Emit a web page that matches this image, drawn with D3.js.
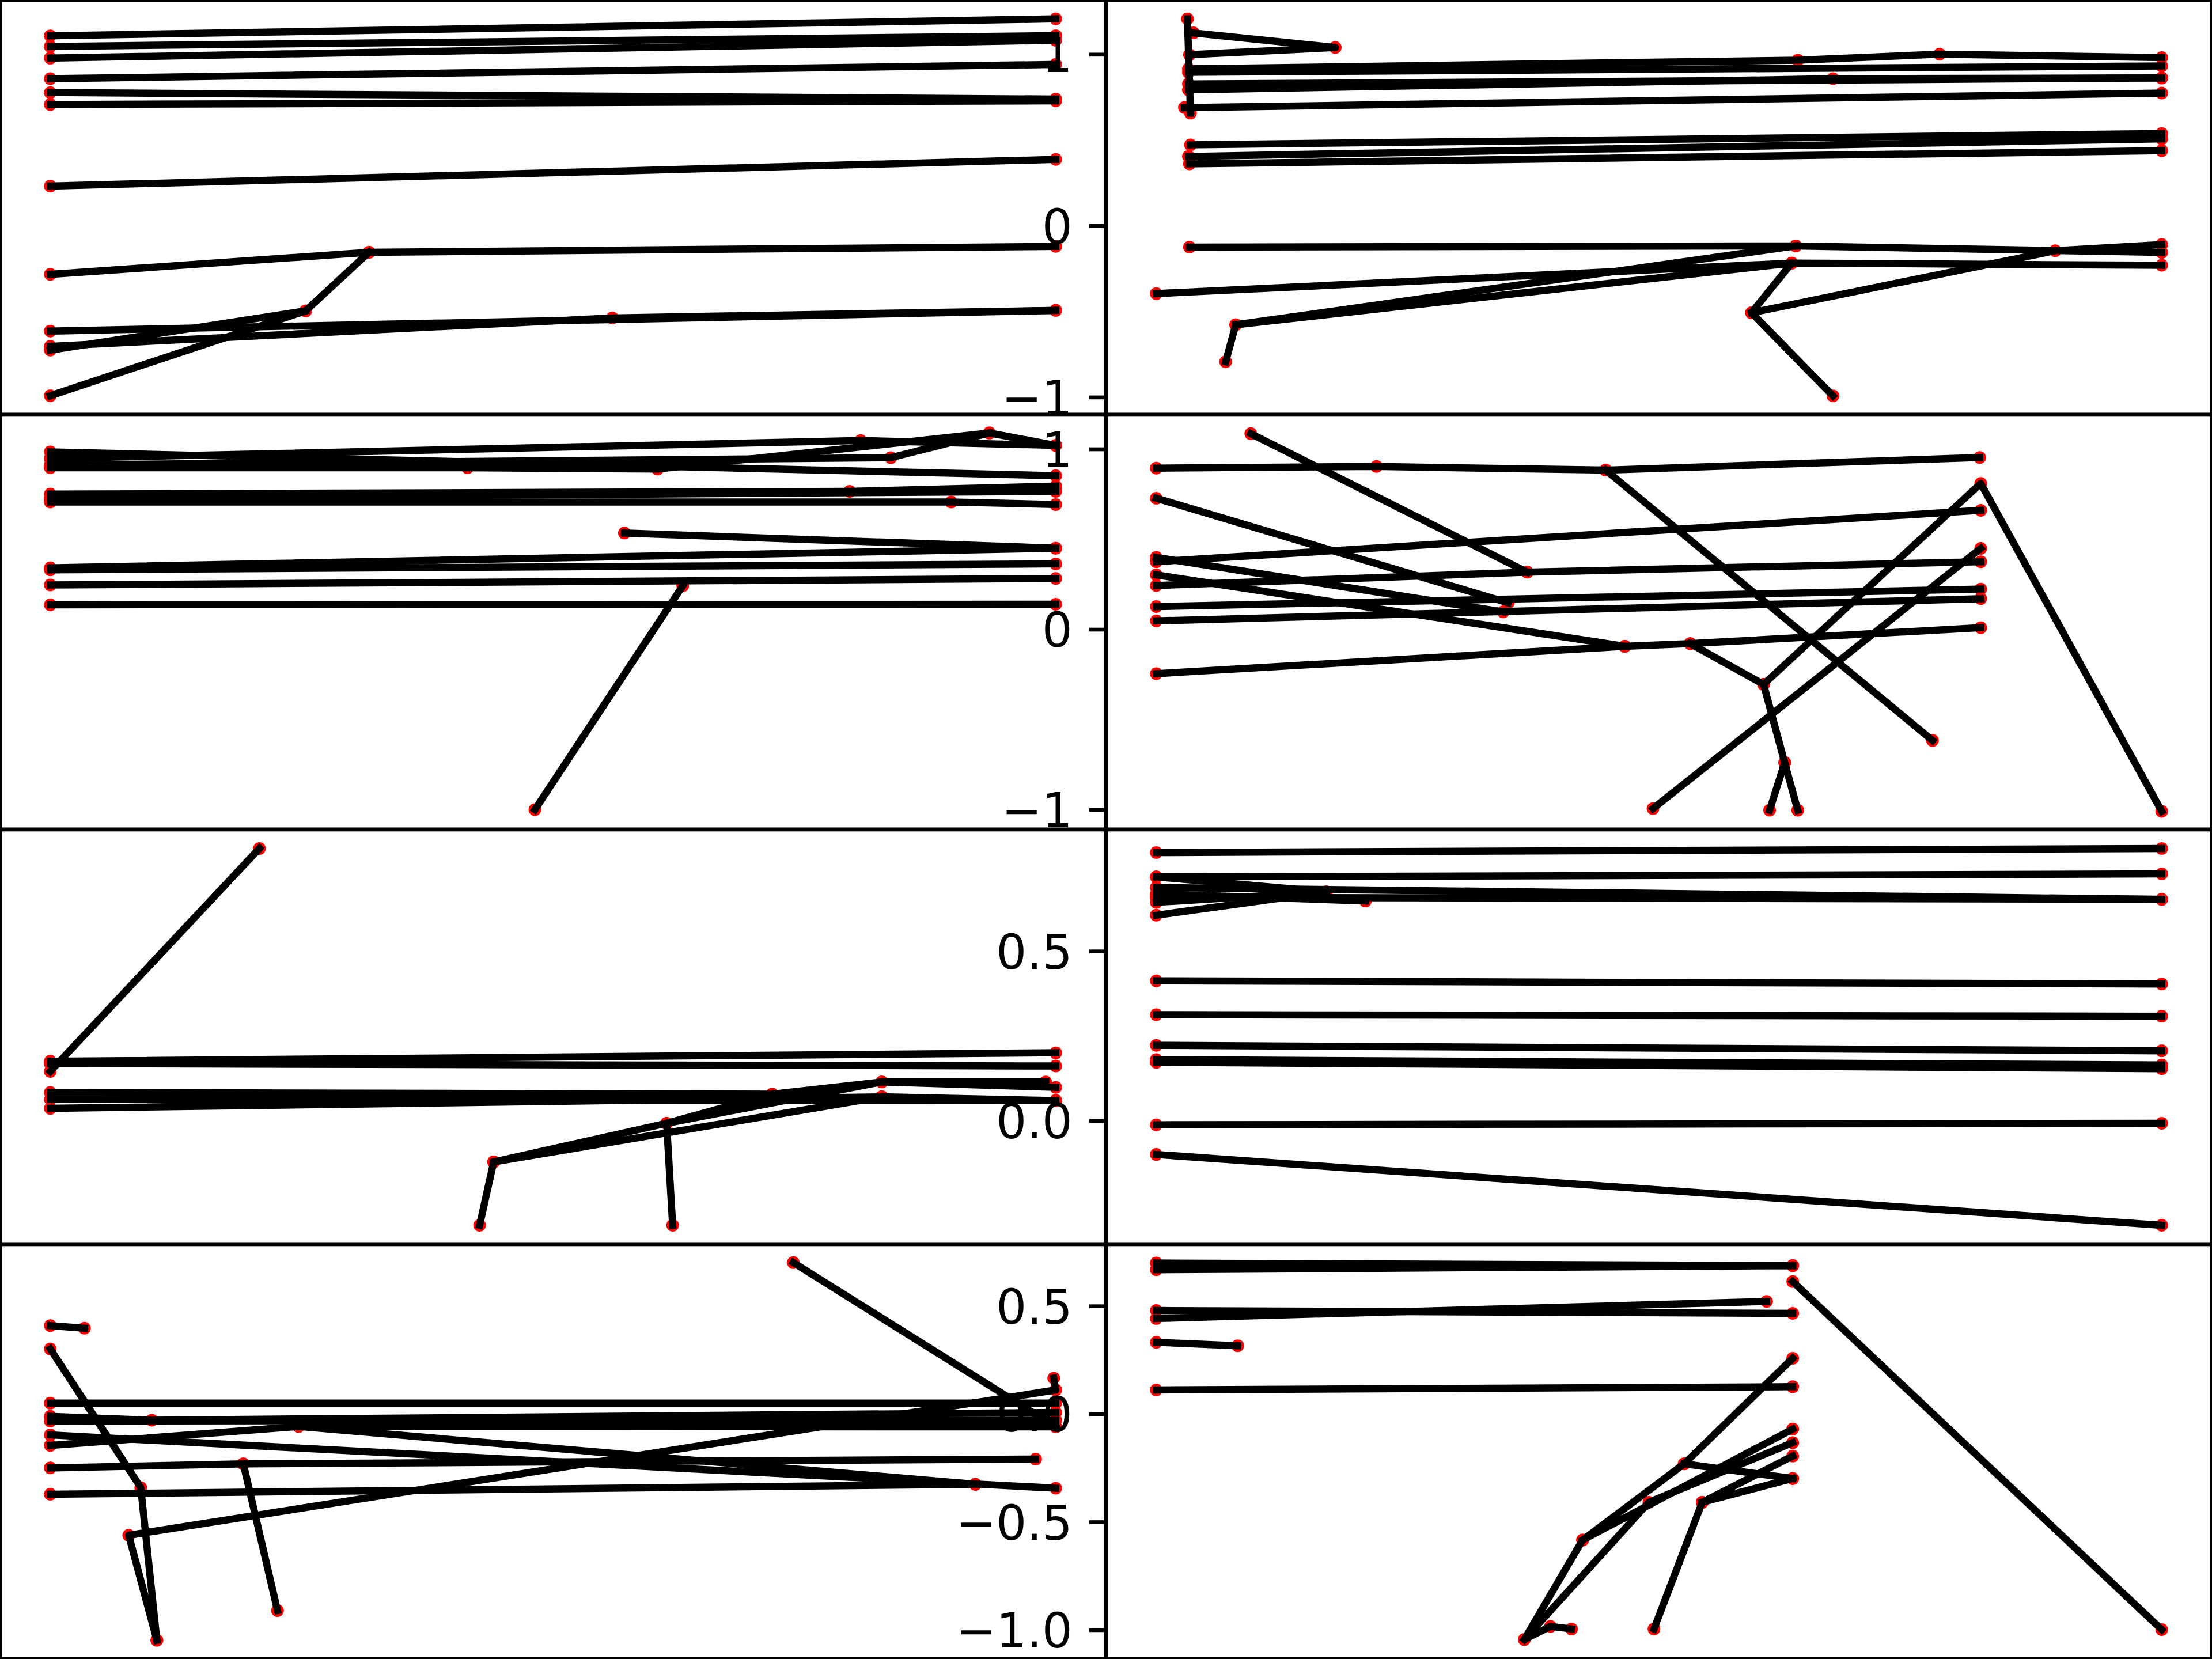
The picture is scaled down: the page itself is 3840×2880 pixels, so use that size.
<!DOCTYPE html>
<html><head><meta charset="utf-8">
<script src="https://cdn.jsdelivr.net/npm/d3@7"></script>
<style>html,body{margin:0;padding:0;background:#fff}</style>
</head><body>
<script>
// ---- data: each panel is a list of polylines, each polyline a list of [x, y] ----
const panel1Lines = [
  [[0,1.108],[1,1.207]],
  [[0,1.046],[1,1.109]],
  [[0,0.978],[1,1.082]],
  [[0,0.858],[1,0.941]],
  [[0,0.777],[1,0.739]],
  [[0,0.707],[1,0.729]],
  [[0,0.231],[1,0.387]],
  [[0,-0.284],[0.317,-0.155],[1,-0.121]],
  [[0,-0.992],[0.254,-0.497],[0.317,-0.155]],
  [[0,-0.726],[0.254,-0.497]],
  [[0,-0.615],[1,-0.494]],
  [[0,-0.704],[0.559,-0.538],[1,-0.494]]
];
const panel2Lines = [
  [[0.031,1.207],[0.034,0.657]],
  [[0.037,1.125],[0.178,1.040],[0.033,0.998]],
  [[0.032,0.915],[0.638,0.966],[0.779,1.001],[1,0.981]],
  [[0.032,0.895],[1,0.932]],
  [[0.032,0.827],[1,0.862]],
  [[0.032,0.793],[0.673,0.858],[1,0.862]],
  [[0.028,0.689],[1,0.774]],
  [[0.034,0.472],[1,0.538]],
  [[0.032,0.404],[1,0.507]],
  [[0.033,0.361],[1,0.438]],
  [[0.033,-0.125],[0.636,-0.118],[1,-0.156]],
  [[0,-0.396],[0.632,-0.218],[1,-0.231]],
  [[0.069,-0.794],[0.079,-0.578],[0.636,-0.118]],
  [[0.079,-0.578],[0.632,-0.218],[0.592,-0.508],[0.673,-0.993]],
  [[0.592,-0.508],[0.894,-0.146],[1,-0.110]]
];
const panel3Lines = [
  [[0,0.984],[1,0.852]],
  [[0,0.947],[0.806,1.047],[1,1.020]],
  [[0,0.911],[0.836,0.952],[0.934,1.089],[1,1.020]],
  [[0,0.896],[0.415,0.896],[0.604,0.889],[0.934,1.089]],
  [[0,0.750],[0.795,0.765],[1,0.794]],
  [[0,0.728],[1,0.765]],
  [[0,0.706],[0.896,0.706],[1,0.692]],
  [[0.571,0.534],[1,0.450]],
  [[0,0.341],[1,0.450]],
  [[0,0.330],[1,0.363]],
  [[0,0.246],[1,0.282]],
  [[0.482,-1.0],[0.629,0.241]],
  [[0,0.136],[1,0.139]]
];
const panel4Lines = [
  [[0.094,1.085],[0.369,0.317]],
  [[0,0.894],[0.219,0.903],[0.447,0.883],[0.819,0.953]],
  [[0.447,0.883],[0.772,-0.616]],
  [[0,0.727],[0.350,0.147]],
  [[0,0.399],[0.345,0.097]],
  [[0,0.375],[0.820,0.660]],
  [[0,0.302],[0.466,-0.094]],
  [[0,0.243],[0.369,0.317],[0.820,0.375]],
  [[0,0.126],[0.820,0.223]],
  [[0,0.047],[0.820,0.170]],
  [[0,-0.246],[0.466,-0.094],[0.531,-0.079],[0.820,0.009]],
  [[0.531,-0.079],[0.604,-0.305],[0.820,0.809],[1.0,-1.009]],
  [[0.604,-0.305],[0.625,-0.739],[0.610,-1.003]],
  [[0.625,-0.739],[0.638,-1.003]],
  [[0.494,-0.994],[0.820,0.449]]
];
const panel5Lines = [
  [[0,0.145],[0.208,0.803]],
  [[0,0.175],[1,0.200]],
  [[0,0.168],[1,0.161]],
  [[0,0.083],[0.718,0.078],[0.827,0.114],[1,0.098]],
  [[0,0.0625],[1,0.059]],
  [[0,0.036],[0.827,0.070],[1,0.059]],
  [[0.427,-0.309],[0.441,-0.122],[0.613,-0.008],[0.827,0.114],[0.99,0.114]],
  [[0.441,-0.122],[0.827,0.070]],
  [[0.619,-0.309],[0.613,-0.008],[0.718,0.078]]
];
const panel6Lines = [
  [[0,0.791],[1,0.803]],
  [[0,0.719],[1,0.728]],
  [[0,0.719],[0.169,0.675]],
  [[0,0.688],[1,0.653]],
  [[0,0.669],[0.208,0.648]],
  [[0,0.659],[1,0.653]],
  [[0,0.644],[0.169,0.675]],
  [[0,0.606],[0.169,0.675]],
  [[0,0.4125],[1,0.403]],
  [[0,0.3125],[1,0.308]],
  [[0,0.222],[1,0.206]],
  [[0,0.180],[1,0.164]],
  [[0,0.172],[1,0.153]],
  [[0,-0.0125],[1,-0.008]],
  [[0,-0.100],[1,-0.309]]
];
const panel7Lines = [
  [[0,0.409],[0.034,0.397]],
  [[0,0.301],[0.090,-0.341],[0.106,-1.048]],
  [[0.106,-1.048],[0.078,-0.562],[1,0.111],[0.998,0.166]],
  [[0.739,0.701],[1,-0.060]],
  [[0,0.050],[1,0.050]],
  [[0,-0.011],[0.101,-0.029],[1,0.007]],
  [[0,-0.033],[1,-0.029]],
  [[0,-0.146],[0.247,-0.058],[1,-0.060]],
  [[0.247,-0.058],[0.920,-0.326]],
  [[0,-0.097],[1,-0.344]],
  [[0,-0.250],[0.192,-0.231],[0.980,-0.209]],
  [[0.192,-0.231],[0.226,-0.911]],
  [[0,-0.372],[0.920,-0.326]]
];
const panel8Lines = [
  [[0,0.699],[0.633,0.687]],
  [[0,0.668],[0.633,0.687]],
  [[0.633,0.613],[1,-0.999]],
  [[0,0.479],[0.633,0.466]],
  [[0,0.442],[0.607,0.521]],
  [[0,0.332],[0.081,0.316]],
  [[0,0.111],[0.633,0.126]],
  [[0.633,0.258],[0.525,-0.231],[0.424,-0.584],[0.366,-1.045],[0.392,-0.984],[0.413,-0.996]],
  [[0.525,-0.231],[0.633,-0.299]],
  [[0.424,-0.584],[0.633,-0.070]],
  [[0.366,-1.045],[0.490,-0.409],[0.633,-0.133]],
  [[0.633,-0.195],[0.543,-0.409],[0.495,-0.996]],
  [[0.543,-0.409],[0.633,-0.299]]
];

// axis limits (per row) and tick labels
const xDomain = [-0.05, 1.05];
const yDomains = [[-1.103, 1.317], [-1.11, 1.19], [-0.365, 0.859], [-1.135, 0.786]];
const yTicks = [[-1, 0, 1], [-1, 0, 1], [0, 0.5], [-1, -0.5, 0, 0.5]];
const yTickFormats = ["d", "d", ".1f", ".1f"];

// ---- drawing ----
const W = 3840, H = 2880, nCols = 2, nRows = 4;
const pw = W / nCols, ph = H / nRows;
const pt = 600 / 72;               // figure rendered at 600 dpi
const lineW = 1.5 * pt, spineW = 0.8 * pt, tickLen = 3.5 * pt, tickPad = 3.5 * pt;
const fontSize = 10 * pt, dotR = 11;

const svg = d3.select("body").append("svg")
  .attr("width", W).attr("height", H)
  .attr("xmlns", "http://www.w3.org/2000/svg");
svg.append("rect").attr("width", W).attr("height", H).attr("fill", "#ffffff");
const defs = svg.append("defs");

const panels = [panel1Lines, panel2Lines, panel3Lines, panel4Lines,
                panel5Lines, panel6Lines, panel7Lines, panel8Lines];

panels.forEach((lines, i) => {
  const r = Math.floor(i / nCols), c = i % nCols;
  const x0 = c * pw, y0 = r * ph;
  const x = d3.scaleLinear().domain(xDomain).range([x0, x0 + pw]);
  const y = d3.scaleLinear().domain(yDomains[r]).range([y0 + ph, y0]);

  const g = svg.append("g").attr("class", "panel");
  g.append("rect").attr("x", x0).attr("y", y0).attr("width", pw).attr("height", ph)
    .attr("fill", "#ffffff");

  const clipId = "clip" + i;
  defs.append("clipPath").attr("id", clipId).append("rect")
    .attr("x", x0).attr("y", y0).attr("width", pw).attr("height", ph);

  const plot = g.append("g").attr("clip-path", `url(#${clipId})`);
  plot.selectAll("circle").data(lines.flat()).join("circle")
    .attr("cx", d => x(d[0])).attr("cy", d => y(d[1])).attr("r", dotR)
    .attr("fill", "#ff0000");
  const lineGen = d3.line().x(d => x(d[0])).y(d => y(d[1]));
  plot.selectAll("path").data(lines).join("path")
    .attr("d", lineGen).attr("fill", "none").attr("stroke", "#000000")
    .attr("stroke-width", lineW).attr("stroke-linecap", "square")
    .attr("stroke-linejoin", "round");

  g.append("rect").attr("x", x0).attr("y", y0).attr("width", pw).attr("height", ph)
    .attr("fill", "none").attr("stroke", "#000000").attr("stroke-width", spineW);

  if (c === 1) {
    const axis = d3.axisLeft(y).tickValues(yTicks[r])
      .tickFormat(d3.format(yTickFormats[r]))
      .tickSize(tickLen).tickPadding(tickPad);
    const ag = g.append("g").attr("transform", `translate(${x0},0)`).call(axis);
    ag.select(".domain").remove();
    ag.selectAll(".tick line").attr("stroke", "#000000").attr("stroke-width", spineW);
    ag.selectAll(".tick text").attr("fill", "#000000")
      .attr("font-family", "'DejaVu Sans', sans-serif").attr("font-size", fontSize)
      .attr("dy", "0.3645em");
  }
});
</script>
</body></html>
